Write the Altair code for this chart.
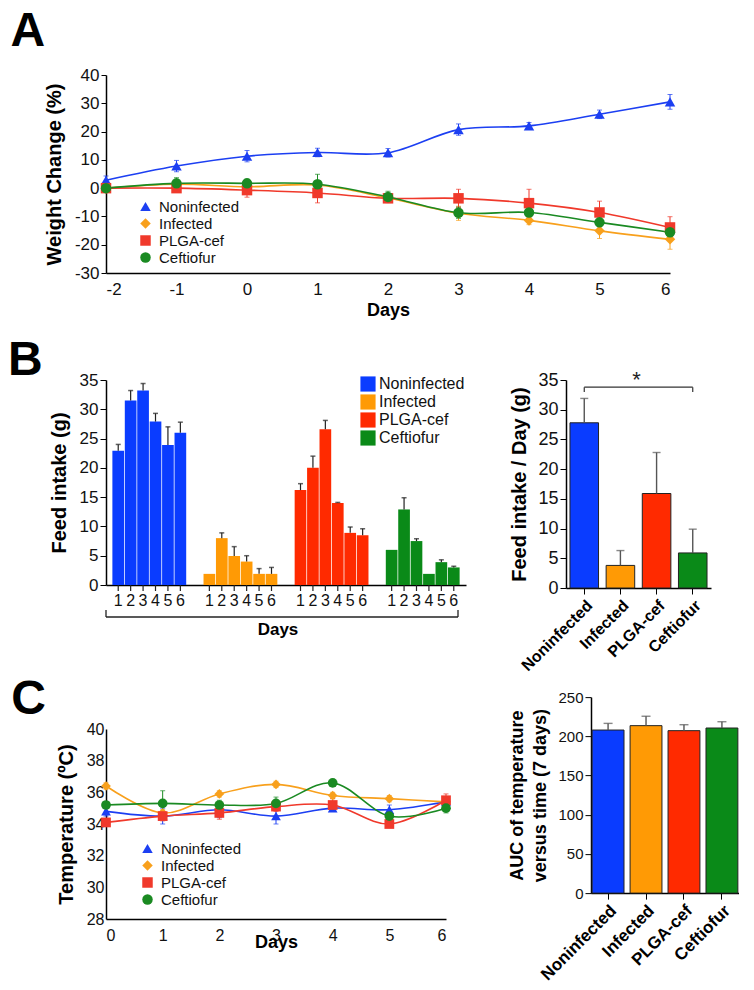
import altair as alt
import pandas as pd

FONT = "Liberation Sans"
groups = ["Noninfected", "Infected", "PLGA-cef", "Ceftiofur"]
line_colors = ["#1c3ff2", "#f8a01c", "#f0392b", "#1a8a22"]
bar_colors = ["#0a3cff", "#ff9a05", "#ff2a00", "#0a8a18"]
shapes = ["triangle-up", "diamond", "square", "circle"]

# ---------- Panel A: weight change ----------
days_a = [-2, -1, 0, 1, 2, 3, 4, 5, 6]
a_non = [2.8, 7.8, 11.3, 12.6, 12.5, 20.7, 22.0, 26.1, 30.5]
a_non_err = [1.5, 2.0, 2.0, 1.5, 1.5, 2.0, 1.2, 1.5, 2.6]
a_inf = [0.0, 1.4, 0.5, 1.1, -3.5, -8.9, -11.4, -15.1, -18.1]
a_inf_err = [1.0, 1.5, 2.0, 1.5, 1.5, 2.5, 1.5, 2.7, 3.5]
a_plga = [0.0, 0.0, -0.7, -1.7, -3.6, -3.6, -5.3, -8.6, -13.9]
a_plga_err = [1.0, 1.0, 2.5, 3.5, 1.0, 3.2, 4.9, 4.0, 3.8]
a_ceft = [0.0, 1.7, 1.7, 1.4, -3.1, -8.7, -8.6, -12.1, -15.6]
a_ceft_err = [1.0, 2.0, 1.5, 3.5, 2.0, 2.0, 1.5, 1.5, 1.5]

# ---------- Panel B: feed intake ----------
days_b = [1, 2, 3, 4, 5, 6]
b_non = [22.9, 31.5, 33.2, 27.9, 23.9, 26.0]
b_non_err = [1.1, 1.7, 1.2, 1.4, 3.1, 1.8]
b_inf = [1.9, 8.0, 4.95, 4.0, 1.9, 1.9]
b_inf_err = [0.0, 0.9, 1.6, 1.0, 0.9, 1.1]
b_plga = [16.2, 20.0, 26.6, 14.0, 8.9, 8.5]
b_plga_err = [1.1, 2.0, 1.5, 0.1, 1.0, 1.1]
b_ceft = [6.0, 12.9, 7.5, 1.9, 3.9, 3.0]
b_ceft_err = [0.0, 2.0, 0.4, 0.0, 0.4, 0.2]

b_day_mean = [27.8, 3.8, 15.9, 5.9]
b_day_err = [4.1, 2.5, 6.9, 4.0]

# ---------- Panel C: temperature ----------
days_c = [0, 1, 2, 3, 4, 5, 6]
c_non = [34.8, 34.5, 34.9, 34.5, 35.0, 34.9, 35.4]
c_non_err = [0.3, 0.5, 0.5, 0.5, 0.2, 0.3, 0.3]
c_inf = [36.4, 34.7, 35.9, 36.5, 35.8, 35.6, 35.4]
c_inf_err = [0.2, 0.2, 0.2, 0.2, 0.2, 0.2, 0.2]
c_plga = [34.1, 34.5, 34.7, 35.1, 35.2, 34.0, 35.5]
c_plga_err = [0.2, 0.3, 0.4, 0.3, 0.4, 0.2, 0.4]
c_ceft = [35.2, 35.3, 35.2, 35.3, 36.6, 34.5, 35.0]
c_ceft_err = [0.2, 0.8, 0.3, 0.4, 0.2, 0.2, 0.3]

c_auc = [208.0, 213.6, 207.2, 210.6]
c_auc_err = [8.5, 12.0, 7.6, 8.0]


def long_df(xs, vals_list, errs_list):
    rows = []
    for g, vals, errs in zip(groups, vals_list, errs_list):
        for x, v, e in zip(xs, vals, errs):
            rows.append(dict(series=g, day=x, value=v, lo=v - e, hi=v + e, err=e))
    return pd.DataFrame(rows)


def line_panel(df, xdom, xvals, ydom, yvals, ytitle, w, h, lx, ly,
               ylab=16, xlab=16, yticks=5, xtitle_pad=4, msize=80):
    leg = alt.Legend(title=None, orient="none", legendX=lx, legendY=ly, labelFontSize=15,
                     symbolSize=110, rowPadding=1, labelOffset=6, labelColor="#111")
    xscale = alt.Scale(domain=xdom, nice=False)
    xaxis = alt.Axis(values=xvals, title="Days", labelFontSize=xlab, titleFontSize=18,
                     titleFontWeight="bold", ticks=False, labelOverlap=False,
                     labelPadding=8, titlePadding=xtitle_pad, grid=False,
                     domainColor="black", domainWidth=1.5, labelColor="#111",
                     titleColor="black", labelExpr="'' + datum.value")
    yscale = alt.Scale(domain=ydom, nice=False)
    yaxis = alt.Axis(values=yvals, title=ytitle, labelFontSize=ylab, titleFontSize=20,
                     titleFontWeight="bold", tickSize=max(yticks, 1), ticks=yticks > 0,
                     grid=False, labelOverlap=False,
                     domainColor="black", domainWidth=1.5, tickColor="black",
                     labelColor="#111", titleColor="black", titlePadding=10,
                     labelExpr="'' + datum.value")

    def X():
        return alt.X("day:Q", scale=xscale, axis=xaxis)

    def Y(f):
        return alt.Y(f + ":Q", scale=yscale, axis=yaxis)

    base = alt.Chart(df)
    layers = []
    for g, col in zip(groups, line_colors):
        sub = base.transform_filter(alt.datum.series == g)
        layers.append(sub.mark_line(interpolate="cardinal", strokeWidth=1.6, color=col)
                      .encode(x=X(), y=Y("value")))
        layers.append(sub.mark_rule(strokeWidth=1, color=col)
                      .encode(x=X(), y=Y("lo"), y2="hi:Q"))
        layers.append(sub.mark_tick(orient="horizontal", size=5, thickness=1, color=col)
                      .encode(x=X(), y=Y("hi")))
        layers.append(sub.mark_tick(orient="horizontal", size=5, thickness=1, color=col)
                      .encode(x=X(), y=Y("lo")))
    pts = base.mark_point(filled=True, size=msize, opacity=1).encode(
        x=X(), y=Y("value"),
        color=alt.Color("series:N", scale=alt.Scale(domain=groups, range=line_colors), legend=leg),
        shape=alt.Shape("series:N", scale=alt.Scale(domain=groups, range=shapes), legend=leg))
    layers.append(pts)
    return alt.layer(*layers).properties(width=w, height=h)


def group_bar_panel(vals, errs, ydom, yvals, ytitle, w, h, ylab, title_size, pi, po,
                    xlab=16, cap=9, extra=None):
    df = pd.DataFrame(dict(group=groups, value=vals, hi=[v + e for v, e in zip(vals, errs)]))
    x = alt.X("group:N", sort=groups, scale=alt.Scale(paddingInner=pi, paddingOuter=po),
              axis=alt.Axis(title=None, labelAngle=-45, labelFontSize=xlab, labelFontWeight="bold",
                            tickSize=6, domainColor="black", domainWidth=1.5, tickColor="black",
                            labelColor="black", labelPadding=3))
    yscale = alt.Scale(domain=ydom, nice=False)
    yaxis = alt.Axis(values=yvals, title=ytitle, labelFontSize=ylab, titleFontSize=title_size,
                     titleFontWeight="bold", tickSize=6, grid=False, labelOverlap=False,
                     domainColor="black", domainWidth=1.5, tickColor="black",
                     labelColor="#111", titleColor="black", titlePadding=8,
                     titleLineHeight=23)

    def Y(f):
        return alt.Y(f + ":Q", scale=yscale, axis=yaxis)

    base = alt.Chart(df)
    bars = base.mark_bar(stroke="#222", strokeWidth=1).encode(
        x=x, y=Y("value"), color=alt.Color("group:N", scale=alt.Scale(domain=groups, range=bar_colors),
                                           legend=None))
    err = base.mark_rule(color="#555", strokeWidth=1.4).encode(x=x, y=Y("value"), y2="hi:Q")
    caps = base.mark_tick(color="#555", size=cap, thickness=1.4, orient="horizontal").encode(
        x=x, y=Y("hi"))
    layers = [bars, err, caps]
    if extra is not None:
        layers += extra(x, Y)
    return alt.layer(*layers).properties(width=w, height=h)


# ---- Panel A chart
dfa = long_df(days_a, [a_non, a_inf, a_plga, a_ceft], [a_non_err, a_inf_err, a_plga_err, a_ceft_err])
chart_a = line_panel(dfa, [-2, 6], days_a, [-30, 40], list(range(-30, 41, 10)),
                     "Weight Change (%)", 564, 198, 32, 124, ylab=17, xlab=17, yticks=5,
                     xtitle_pad=4, msize=110)
chart_a = chart_a.properties(title=alt.TitleParams("A", fontSize=48, fontWeight="bold",
                                                   anchor="start", frame="bounds", dx=-34,
                                                   offset=10, color="black"))

# ---- Panel B left: grouped bars per day
rows = []
for g, vals, errs in zip(groups, [b_non, b_inf, b_plga, b_ceft],
                         [b_non_err, b_inf_err, b_plga_err, b_ceft_err]):
    for d, v, e in zip(days_b, vals, errs):
        rows.append(dict(group=g, day=d, value=v, hi=v + e, err=e))
dfb = pd.DataFrame(rows)
BW, BH = 360, 205
bx = alt.X("group:N", sort=groups, scale=alt.Scale(paddingInner=0.19, paddingOuter=0.07),
           axis=alt.Axis(title=None, labels=False, ticks=False, domainColor="black",
                         domainWidth=1.5))
bxo = alt.XOffset("day:O", scale=alt.Scale(paddingInner=0.06))
b_yscale = alt.Scale(domain=[0, 35], nice=False)
b_yaxis = alt.Axis(values=list(range(0, 36, 5)), title="Feed intake (g)", labelFontSize=17,
                   titleFontSize=20, titleFontWeight="bold", tickSize=6, grid=False,
                   labelOverlap=False,
                   domainColor="black", domainWidth=1.5, tickColor="black",
                   labelColor="#111", titleColor="black", titlePadding=10)


def BY(f):
    return alt.Y(f + ":Q", scale=b_yscale, axis=b_yaxis)


bbase = alt.Chart(dfb)
b_bars = bbase.mark_bar().encode(
    x=bx, xOffset=bxo, y=BY("value"),
    color=alt.Color("group:N", scale=alt.Scale(domain=groups, range=bar_colors),
                    legend=alt.Legend(title=None, orient="none", legendX=254, legendY=-4,
                                      symbolType="square", symbolSize=230, labelFontSize=16,
                                      rowPadding=2, labelOffset=3, symbolStrokeWidth=0,
                                      labelColor="#111")))
b_err = bbase.transform_filter("datum.err > 0").mark_rule(color="#222", strokeWidth=1.2).encode(
    x=bx, xOffset=bxo, y=BY("value"), y2="hi:Q")
b_caps = bbase.transform_filter("datum.err > 0").mark_tick(
    color="#222", size=5, thickness=1.5, orient="horizontal").encode(x=bx, xOffset=bxo, y=BY("hi"))
b_dticks = bbase.mark_rule(color="#222", strokeWidth=1.2).encode(
    x=bx, xOffset=bxo, y=alt.value(BH), y2=alt.value(BH + 6))
b_dlabels = bbase.mark_text(fontSize=16, baseline="top", color="#111").encode(
    x=bx, xOffset=bxo, y=alt.value(BH + 8), text="day:N")
ann = alt.Chart(pd.DataFrame({"k": [0]}))
b_brk = ann.mark_rule(color="#222", strokeWidth=1.3).encode(
    x=alt.value(0), x2=alt.value(352), y=alt.value(BH + 32))
b_brk_l = ann.mark_rule(color="#222", strokeWidth=1.3).encode(
    x=alt.value(0), y=alt.value(BH + 25), y2=alt.value(BH + 32))
b_brk_r = ann.mark_rule(color="#222", strokeWidth=1.3).encode(
    x=alt.value(352), y=alt.value(BH + 25), y2=alt.value(BH + 32))
b_days = ann.mark_text(fontSize=17, fontWeight="bold", baseline="top", color="black").encode(
    x=alt.value(172), y=alt.value(BH + 37), text=alt.value("Days"))
chart_bl = alt.layer(b_bars, b_err, b_caps, b_dticks, b_dlabels, b_brk, b_brk_l, b_brk_r,
                     b_days).properties(width=BW, height=BH)


# ---- Panel B right: mean per day with significance bracket
def sig_bracket(x, Y):
    sdf = pd.DataFrame(dict(group=["Noninfected", "Ceftiofur"], value=[33.8, 33.8],
                            lo=[33.0, 33.0]))
    s = alt.Chart(sdf)
    line = s.mark_line(color="#333", strokeWidth=1.2).encode(x=x, y=Y("value"))
    ends = s.mark_rule(color="#333", strokeWidth=1.2).encode(x=x, y=Y("value"), y2="lo:Q")
    star = alt.Chart(pd.DataFrame(dict(group=["Infected"], value=[35.0]))).mark_text(
        text="*", fontSize=22, dx=16, baseline="middle", color="#222").encode(x=x, y=Y("value"))
    return [line, ends, star]


chart_br = group_bar_panel(b_day_mean, b_day_err, [0, 35], list(range(0, 36, 5)),
                           "Feed intake / Day  (g)", 145, 208, 18, 20, 0.21, 0.11,
                           xlab=16, cap=8, extra=sig_bracket)

row_b = alt.hconcat(chart_bl, chart_br, spacing=43).resolve_scale(
    color="independent", x="independent", y="independent").properties(
    title=alt.TitleParams("B", fontSize=48, fontWeight="bold", anchor="start", dx=-41,
                          offset=-16, color="black"))

# ---- Panel C left: temperature
dfc = long_df(days_c, [c_non, c_inf, c_plga, c_ceft], [c_non_err, c_inf_err, c_plga_err, c_ceft_err])
chart_cl = line_panel(dfc, [0, 6], days_c, [28, 40], list(range(28, 41, 2)),
                      "Temperature (ºC)", 340, 190, 34, 112, ylab=16, xlab=16, yticks=0,
                      xtitle_pad=-10, msize=95)

chart_cr = group_bar_panel(c_auc, c_auc_err, [0, 250], list(range(0, 251, 50)),
                           ["AUC of temperature", "versus time (7 days)"], 148, 196, 15, 18,
                           0.16, 0.03, xlab=17, cap=9)

row_c = alt.hconcat(chart_cl, chart_cr, spacing=57, center=True).resolve_scale(
    color="independent", shape="independent", x="independent", y="independent").properties(
    title=alt.TitleParams("C", fontSize=48, fontWeight="bold", anchor="start", dx=-45,
                          offset=-34, color="black"))

rows_bc = alt.vconcat(row_b, row_c, spacing=2).resolve_scale(
    color="independent", shape="independent", x="independent", y="independent")

chart = alt.vconcat(chart_a, rows_bc, spacing=18).resolve_scale(
    color="independent", shape="independent", x="independent", y="independent").properties(
    padding={"left": 0, "top": 0, "right": 0, "bottom": 0}).configure(
    font=FONT).configure_view(stroke=None)

chart.save("out.html", embed_options={"renderer": "svg", "actions": False})
